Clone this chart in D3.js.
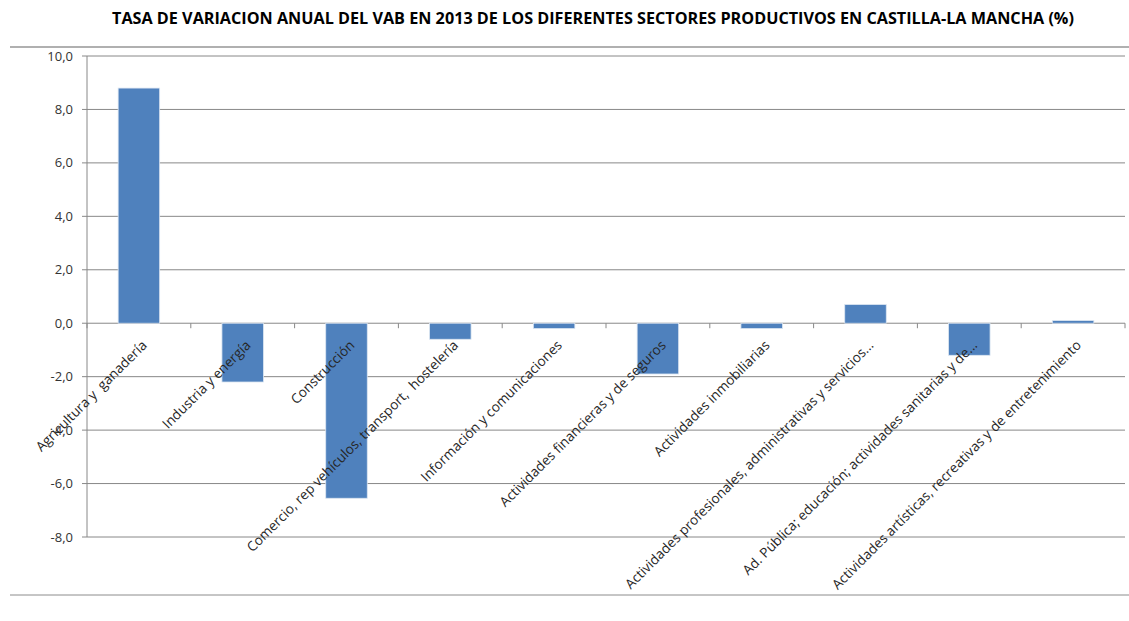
<!DOCTYPE html>
<html>
<head>
<meta charset="utf-8">
<script src="https://cdn.jsdelivr.net/npm/d3@7"></script>
<style>
  body { margin: 0; background: #fff; }
  text { font-family: "Open Sans", "Noto Sans", sans-serif; }
  text.cat { white-space: pre; }
</style>
</head>
<body>
<div id="chart"></div>
<script>
var title = "TASA DE VARIACION ANUAL DEL VAB EN 2013 DE LOS DIFERENTES SECTORES PRODUCTIVOS EN CASTILLA-LA MANCHA (%)";

var sectors = [
  "Agricultura y  ganadería",
  "Industria y energía",
  "Construcción",
  "Comercio, rep vehículos, transport,  hostelería",
  "Información y comunicaciones",
  "Actividades financieras y de seguros",
  "Actividades inmobiliarias",
  "Actividades profesionales, administrativas y servicios...",
  "Ad. Pública; educación; actividades sanitarias y de...",
  "Actividades artísticas, recreativas y de entretenimiento"
];
var values = [8.8, -2.2, -6.55, -0.6, -0.2, -1.9, -0.2, 0.7, -1.2, 0.1];
var yTicks = [-8, -6, -4, -2, 0, 2, 4, 6, 8, 10];

var width = 1129, height = 621;
var svg = d3.select("#chart").append("svg")
    .attr("width", width)
    .attr("height", height);

var plotLeft = 87, plotRight = 1125, plotTop = 56, plotBottom = 537;

var x = d3.scaleBand()
    .domain(sectors)
    .range([plotLeft, plotRight])
    .paddingInner(0.6)
    .paddingOuter(0.3);

var y = d3.scaleLinear()
    .domain([-8, 10])
    .range([plotBottom, plotTop]);

// title
svg.append("text")
    .attr("x", 593)
    .attr("y", 24)
    .attr("text-anchor", "middle")
    .attr("font-size", 16.2)
    .attr("font-weight", "bold")
    .attr("fill", "#000")
    .text(title);

// separator lines
svg.append("line")
    .attr("x1", 10).attr("x2", width)
    .attr("y1", 47).attr("y2", 47)
    .attr("stroke", "#b0b0b0").attr("stroke-width", 2);
svg.append("line")
    .attr("x1", 10).attr("x2", width)
    .attr("y1", 595).attr("y2", 595)
    .attr("stroke", "#8c8c8c").attr("stroke-width", 1);

// gridlines
yTicks.forEach(function(t) {
    svg.append("line")
        .attr("x1", plotLeft - 5).attr("x2", plotRight)
        .attr("y1", y(t)).attr("y2", y(t))
        .attr("stroke", "#888").attr("stroke-width", 1);
    svg.append("text")
        .attr("x", 73)
        .attr("y", y(t))
        .attr("dy", "0.35em")
        .attr("text-anchor", "end")
        .attr("font-size", 13)
        .attr("fill", "#333")
        .text(d3.format(".1f")(t).replace(".", ",").replace("\u2212", "-"));
});

// y axis line
svg.append("line")
    .attr("x1", plotLeft).attr("x2", plotLeft)
    .attr("y1", plotTop).attr("y2", plotBottom)
    .attr("stroke", "#888");

// bars
svg.selectAll("rect.bar")
    .data(values)
    .enter().append("rect")
    .attr("class", "bar")
    .attr("x", function(d, i) { return x(sectors[i]); })
    .attr("width", x.bandwidth())
    .attr("y", function(d) { return y(Math.max(0, d)); })
    .attr("height", function(d) { return Math.abs(y(d) - y(0)); })
    .attr("fill", "#4f81bd")
    .attr("stroke", "#dce6f2")
    .attr("stroke-width", 0.8);

// category ticks at zero line
var step = x.step();
d3.range(sectors.length + 1).forEach(function(i) {
    var xx = plotLeft + i * step;
    svg.append("line")
        .attr("x1", xx).attr("x2", xx)
        .attr("y1", y(0)).attr("y2", y(0) + 5)
        .attr("stroke", "#888");
});

// category labels
svg.selectAll("text.cat")
    .data(sectors)
    .enter().append("text")
    .attr("class", "cat")
    .attr("transform", function(d) {
        return "translate(" + (x(d) + x.bandwidth() / 2 + 2) + "," + (y(0) + 16) + ") rotate(-45)";
    })
    .attr("text-anchor", "end")
    .attr("dy", "0.71em")
    .attr("font-size", 13.6)
    .attr("fill", "#262626")
    .text(function(d) { return d; });
</script>
</body>
</html>
